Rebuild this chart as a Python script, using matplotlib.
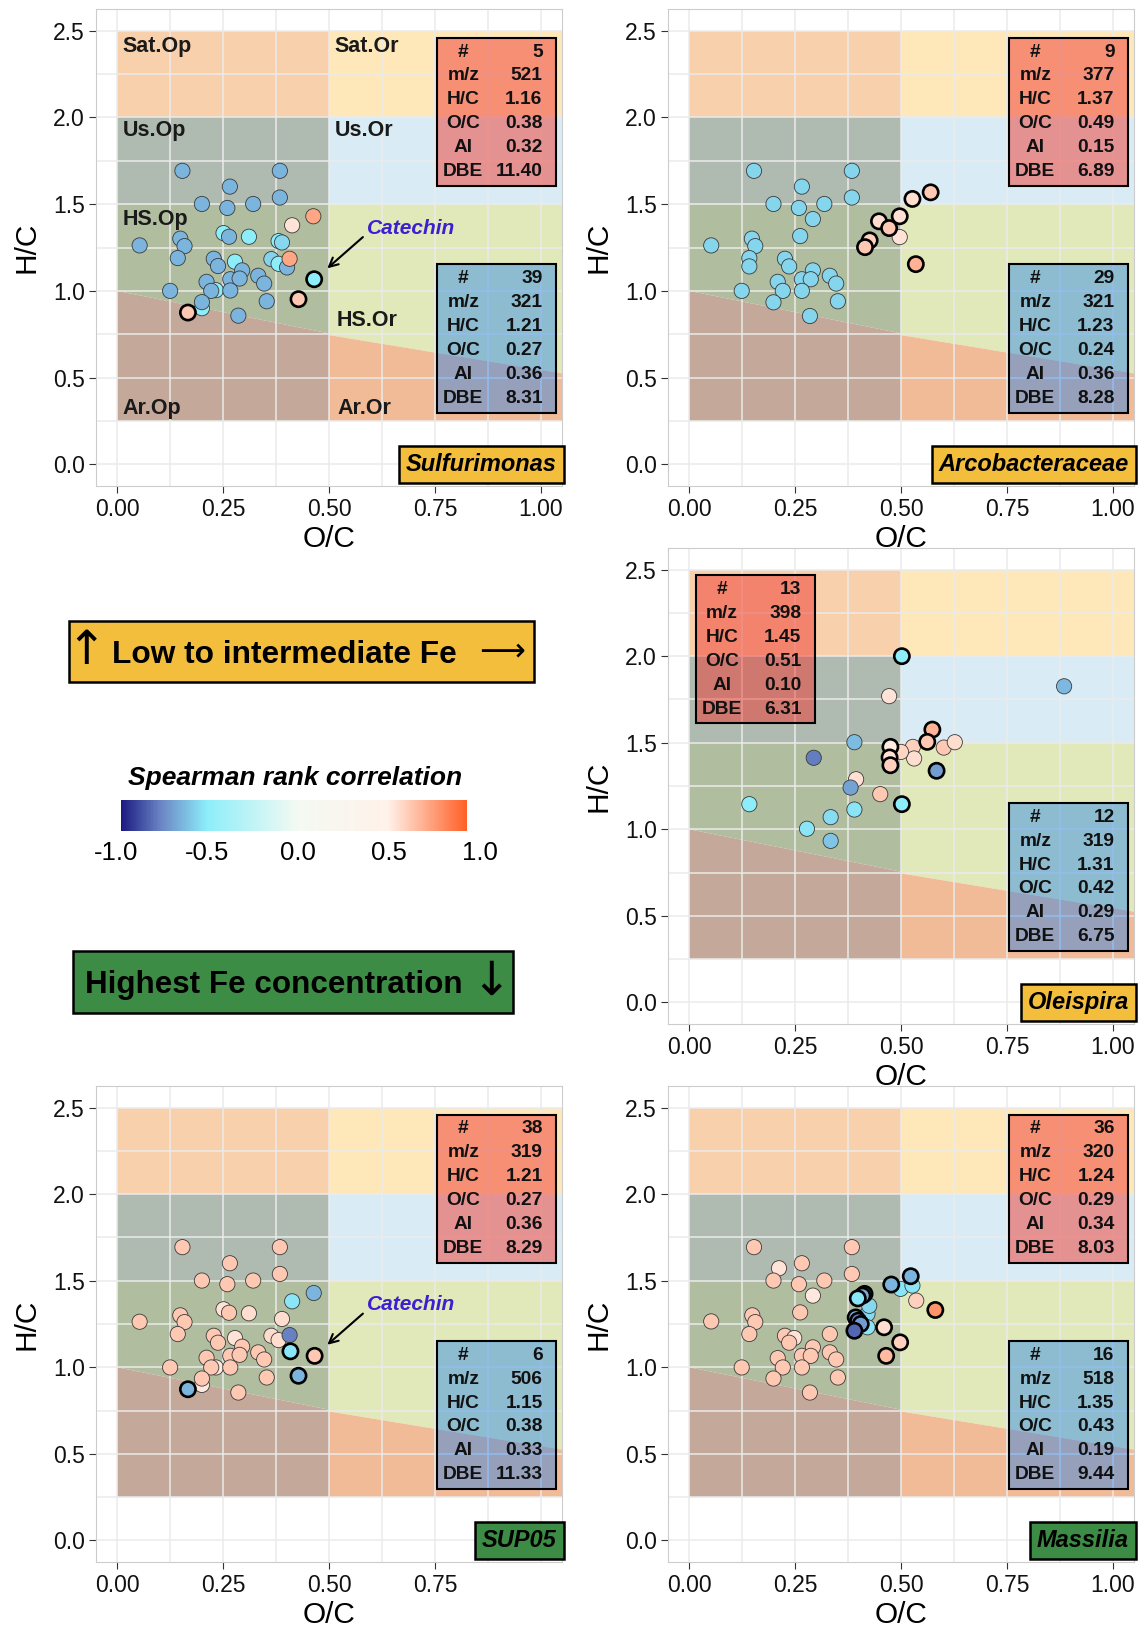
import numpy as np
import matplotlib
matplotlib.use('Agg')
import matplotlib.pyplot as plt
from matplotlib.colors import LinearSegmentedColormap, to_rgba
from matplotlib.patches import Rectangle

plt.rcParams['font.family'] = ['Liberation Sans', 'DejaVu Sans']

W, H = 1138, 1629

# ---------------- data ----------------
box_rows = ['#', 'm/z', 'H/C', 'O/C', 'AI', 'DBE']

# Sulfurimonas
sulf_oc = [0.154, 0.384, 0.266, 0.384, 0.200, 0.260, 0.321, 0.463, 0.413, 0.053,
           0.149, 0.159, 0.251, 0.264, 0.311, 0.381, 0.389, 0.143, 0.228, 0.238,
           0.278, 0.295, 0.364, 0.381, 0.401, 0.407, 0.333, 0.347, 0.267, 0.289,
           0.211, 0.233, 0.222, 0.267, 0.125, 0.200, 0.200, 0.167, 0.286, 0.353,
           0.428, 0.465]
sulf_hc = [1.692, 1.692, 1.601, 1.538, 1.501, 1.478, 1.501, 1.430, 1.378, 1.262,
           1.301, 1.258, 1.333, 1.312, 1.312, 1.287, 1.279, 1.189, 1.185, 1.143,
           1.168, 1.118, 1.183, 1.156, 1.135, 1.185, 1.087, 1.042, 1.067, 1.071,
           1.052, 1.004, 1.000, 1.002, 1.000, 0.900, 0.935, 0.875, 0.857, 0.940,
           0.952, 1.067]
sulf_rho = [-0.64, -0.64, -0.64, -0.64, -0.64, -0.64, -0.64, 0.72, 0.54, -0.64,
            -0.64, -0.64, -0.50, -0.64, -0.50, -0.50, -0.55, -0.64, -0.64, -0.64,
            -0.50, -0.64, -0.57, -0.50, -0.64, 0.72, -0.64, -0.64, -0.64, -0.64,
            -0.64, -0.50, -0.64, -0.64, -0.64, -0.50, -0.64, 0.62, -0.64, -0.64,
            0.62, -0.50]
sulf_bold = [37, 40, 41]
sulf_red = [5, 521, 1.16, 0.38, 0.32, 11.40]
sulf_blue = [39, 321, 1.21, 0.27, 0.36, 8.31]

# Arcobacteraceae
arc_oc = [0.153, 0.384, 0.266, 0.384, 0.199, 0.259, 0.319, 0.292, 0.262, 0.052,
          0.148, 0.156, 0.142, 0.142, 0.226, 0.236, 0.292, 0.266, 0.287, 0.209,
          0.221, 0.266, 0.124, 0.199, 0.285, 0.332, 0.347, 0.351, 0.497, 0.570,
          0.527, 0.497, 0.448, 0.472, 0.426, 0.415, 0.535]
arc_hc = [1.692, 1.692, 1.601, 1.538, 1.501, 1.478, 1.501, 1.414, 1.316, 1.262,
          1.301, 1.258, 1.189, 1.141, 1.185, 1.141, 1.118, 1.067, 1.067, 1.052,
          1.000, 1.000, 1.000, 0.934, 0.855, 1.087, 1.042, 0.940, 1.310, 1.568,
          1.530, 1.430, 1.401, 1.362, 1.291, 1.252, 1.154]
arc_rho = [-0.56] * 28 + [0.54, 0.62, 0.56, 0.55, 0.56, 0.62, 0.60, 0.62, 0.68]
arc_bold = [29, 30, 31, 32, 33, 34, 35, 36]
arc_red = [9, 377, 1.37, 0.49, 0.15, 6.89]
arc_blue = [29, 321, 1.23, 0.24, 0.36, 8.28]

# Oleispira
ole_oc = [0.885, 0.472, 0.390, 0.294, 0.528, 0.531, 0.500, 0.601, 0.627, 0.394,
          0.381, 0.451, 0.142, 0.390, 0.334, 0.278, 0.334, 0.502, 0.574, 0.562,
          0.475, 0.473, 0.475, 0.584, 0.502]
ole_hc = [1.826, 1.769, 1.503, 1.413, 1.476, 1.409, 1.447, 1.472, 1.503, 1.289,
          1.241, 1.203, 1.145, 1.114, 1.070, 1.003, 0.933, 2.000, 1.576, 1.505,
          1.476, 1.415, 1.370, 1.338, 1.145]
ole_rho = [-0.63, 0.54, -0.62, -0.77, 0.60, 0.56, 0.58, 0.62, 0.56, 0.55,
           -0.68, 0.62, -0.50, -0.52, -0.54, -0.52, -0.60, -0.50, 0.68, 0.62,
           0.52, 0.55, 0.60, -0.70, -0.50]
ole_bold = [17, 18, 19, 20, 21, 22, 23, 24]
ole_red = [13, 398, 1.45, 0.51, 0.10, 6.31]
ole_blue = [12, 319, 1.31, 0.42, 0.29, 6.75]

# SUP05
sup_oc = [0.154, 0.384, 0.266, 0.384, 0.200, 0.260, 0.321, 0.464, 0.413, 0.053,
          0.149, 0.159, 0.251, 0.264, 0.311, 0.389, 0.143, 0.228, 0.238, 0.278,
          0.295, 0.364, 0.381, 0.407, 0.333, 0.347, 0.267, 0.289, 0.211, 0.233,
          0.222, 0.267, 0.125, 0.200, 0.200, 0.286, 0.353, 0.409, 0.466, 0.428,
          0.167]
sup_hc = [1.694, 1.694, 1.601, 1.539, 1.501, 1.480, 1.501, 1.429, 1.381, 1.263,
          1.300, 1.261, 1.335, 1.315, 1.312, 1.279, 1.192, 1.182, 1.142, 1.169,
          1.119, 1.182, 1.157, 1.186, 1.086, 1.045, 1.066, 1.072, 1.055, 0.999,
          0.999, 0.999, 0.999, 0.898, 0.935, 0.854, 0.941, 1.092, 1.066, 0.951,
          0.873]
sup_rho = [0.62, 0.62, 0.62, 0.62, 0.62, 0.62, 0.62, -0.64, -0.52, 0.62,
           0.62, 0.62, 0.54, 0.62, 0.56, 0.56, 0.62, 0.62, 0.62, 0.54,
           0.62, 0.57, 0.56, -0.76, 0.62, 0.62, 0.62, 0.62, 0.62, 0.53,
           0.62, 0.62, 0.62, 0.53, 0.62, 0.62, 0.62, -0.52, 0.62, -0.64,
           -0.64]
sup_bold = [37, 38, 39, 40]
sup_red = [38, 319, 1.21, 0.27, 0.36, 8.29]
sup_blue = [6, 506, 1.15, 0.38, 0.33, 11.33]

# Massilia
mas_oc = [0.153, 0.384, 0.266, 0.212, 0.384, 0.199, 0.259, 0.319, 0.292, 0.262,
          0.052, 0.149, 0.156, 0.142, 0.226, 0.248, 0.236, 0.292, 0.266, 0.287,
          0.209, 0.221, 0.266, 0.124, 0.199, 0.285, 0.332, 0.332, 0.347, 0.351,
          0.499, 0.527, 0.536, 0.421, 0.421, 0.425, 0.523, 0.477, 0.581, 0.414,
          0.409, 0.398, 0.393, 0.399, 0.405, 0.390, 0.460, 0.498, 0.465]
mas_hc = [1.694, 1.694, 1.601, 1.572, 1.539, 1.501, 1.480, 1.501, 1.414, 1.317,
          1.265, 1.300, 1.261, 1.192, 1.182, 1.169, 1.142, 1.115, 1.066, 1.066,
          1.053, 0.999, 0.999, 0.999, 0.935, 0.854, 1.192, 1.086, 1.045, 0.941,
          1.453, 1.472, 1.385, 1.308, 1.231, 1.355, 1.526, 1.478, 1.331, 1.424,
          1.414, 1.398, 1.288, 1.269, 1.250, 1.211, 1.231, 1.144, 1.066]
mas_rho = [0.62, 0.62, 0.62, 0.54, 0.62, 0.62, 0.62, 0.62, 0.53, 0.62,
           0.62, 0.62, 0.62, 0.62, 0.62, 0.54, 0.62, 0.62, 0.62, 0.62,
           0.62, 0.62, 0.62, 0.62, 0.62, 0.62, 0.62, 0.62, 0.62, 0.62,
           -0.52, -0.52, 0.60, -0.55, -0.52, -0.55, -0.64, -0.64, 0.78, -0.72,
           -0.66, -0.52, -0.66, -0.75, -0.70, -0.82, 0.56, 0.60, 0.66]
mas_bold = [36, 37, 38, 39, 40, 41, 42, 43, 44, 45, 46, 47, 48]
mas_red = [36, 320, 1.24, 0.29, 0.34, 8.03]
mas_blue = [16, 518, 1.35, 0.43, 0.19, 9.44]

cbar_ticks = [-1.0, -0.5, 0.0, 0.5, 1.0]
rho_range = (-0.97, 0.93)

# ---------------- styling ----------------
cmap = LinearSegmentedColormap.from_list(
    'spearman', [(0.0, '#120E7A'), (0.125, '#6C88C6'), (0.25, '#8DEEFA'),
                 (0.5, '#F4FAF3'), (0.75, '#FFF2EA'), (1.0, '#FF4A08')])

# van Krevelen zones (x, y polygons)
zones = [
    ([0, 0.5, 0.5, 0], [2.0, 2.0, 2.5, 2.5], '#F8D0AC'),
    ([0.5, 1.06, 1.06, 0.5], [2.0, 2.0, 2.5, 2.5], '#FEE8B9'),
    ([0, 0.5, 0.5, 0], [1.5, 1.5, 2.0, 2.0], '#AFBAB0'),
    ([0.5, 1.06, 1.06, 0.5], [1.5, 1.5, 2.0, 2.0], '#D9ECF5'),
    ([0, 0.5, 0.5, 0], [1.0, 0.755, 1.5, 1.5], '#B0BD9F'),
    ([0.5, 1.06, 1.06, 0.5], [0.745, 0.52, 1.5, 1.5], '#E1E8BA'),
    ([0, 0.5, 0.5, 0], [0.25, 0.25, 0.755, 1.0], '#C4A99A'),
    ([0.5, 1.06, 1.06, 0.5], [0.25, 0.25, 0.52, 0.745], '#F1BB98'),
]
zone_names = [('Sat.Op', 0.012, 2.41), ('Sat.Or', 0.513, 2.41),
              ('Us.Op', 0.012, 1.925), ('Us.Or', 0.513, 1.925),
              ('HS.Op', 0.012, 1.41), ('HS.Or', 0.519, 0.83),
              ('Ar.Op', 0.012, 0.32), ('Ar.Or', 0.519, 0.32)]

fig = plt.figure(figsize=(W / 100, H / 100), dpi=100)


def px_rect(left, top, right, bottom):
    return [left / W, 1 - bottom / H, (right - left) / W, (bottom - top) / H]


def fmt(i, v):
    return str(int(v)) if i < 2 else f'{v:.2f}'


def info_box(ax, x0, ytop, vals, color, alpha):
    ax.add_patch(Rectangle((x0, ytop - 0.855), 0.28, 0.855, facecolor=to_rgba(color, alpha),
                           edgecolor='black', lw=1.5, zorder=5))
    for i, (lab, v) in enumerate(zip(box_rows, vals)):
        y = ytop - 0.083 - i * 0.138
        ax.text(x0 + 0.062, y, lab, ha='center', va='center', fontsize=13.8,
                weight='bold', color='#111111', zorder=6)
        ax.text(x0 + 0.249, y, fmt(i, v), ha='right', va='center', fontsize=13.8,
                weight='bold', color='#111111', zorder=6)


def panel(rect, oc, hc, rho, bold, red, blue, taxon, tcol, red_at=(0.755, 2.46),
          names=False, catechin=False, xt=(0, 0.25, 0.5, 0.75, 1.0)):
    ax = fig.add_axes(rect)
    ax.set_xlim(-0.05, 1.05)
    ax.set_ylim(-0.125, 2.625)
    for xs, ys, col in zones:
        ax.fill(xs, ys, color=col, lw=0, zorder=1)
    ax.set_axisbelow('line')
    ax.set_xticks(list(xt))
    ax.set_xticklabels([f'{v:.2f}' for v in xt])
    minor_x = [0.125, 0.375, 0.625, 0.875] + [v for v in (0, 0.25, 0.5, 0.75, 1.0) if v not in xt]
    ax.set_xticks(minor_x, minor=True)
    yt = [0, 0.5, 1.0, 1.5, 2.0, 2.5]
    ax.set_yticks(yt)
    ax.set_yticklabels([f'{v:.1f}' for v in yt])
    ax.set_yticks([0.25, 0.75, 1.25, 1.75, 2.25], minor=True)
    ax.grid(which='both', color='#EBEBEB', lw=1.1)
    ax.tick_params(which='minor', length=0)
    ax.tick_params(which='major', length=5, width=0.8, color='#333333', labelsize=16.5,
                   pad=3, labelcolor='#111111')
    ax.tick_params(axis='x', which='major', pad=4)
    for s in ax.spines.values():
        s.set_color('#CCCCCC')
        s.set_linewidth(0.8)
    ax.set_xlabel('O/C', fontsize=21.5, labelpad=2.5)
    ax.set_ylabel('H/C', fontsize=21.5, labelpad=9)

    oc = np.asarray(oc)
    hc = np.asarray(hc)
    rho = np.asarray(rho)
    isb = np.isin(np.arange(len(oc)), bold)
    ax.scatter(oc[~isb], hc[~isb], c=rho[~isb], cmap=cmap, vmin=-1, vmax=1, s=120,
               edgecolors='#3A3A3A', linewidths=0.6, zorder=3)
    ax.scatter(oc[isb], hc[isb], c=rho[isb], cmap=cmap, vmin=-1, vmax=1, s=120,
               edgecolors='black', linewidths=1.9, zorder=4)

    info_box(ax, red_at[0], red_at[1], red, '#F03830', 0.5)
    info_box(ax, 0.755, 1.152, blue, '#0F78F1', 0.4)

    if names:
        for n, x, y in zone_names:
            ax.text(x, y, n, ha='left', va='center', fontsize=15.5, weight='bold',
                    color='#1A1A1A', zorder=2)
    if catechin:
        ax.annotate('', xy=(0.496, 1.13), xytext=(0.58, 1.31),
                    arrowprops=dict(arrowstyle='->', color='black', lw=1.5,
                                    mutation_scale=16, shrinkA=0, shrinkB=0), zorder=6)
        ax.text(0.59, 1.36, 'Catechin', ha='left', va='center', fontsize=15,
                weight='bold', style='italic', color='#3B1FD1', zorder=6)
    ax.text(1.038, 0.0, taxon, ha='right', va='center', fontsize=17, weight='bold',
            style='italic', color='black', zorder=7, clip_on=False,
            bbox=dict(boxstyle='square,pad=0.3', fc=tcol, ec='black', lw=1.8))
    return ax


orange = '#F4BE3D'
green = '#3D8C45'

panel(px_rect(96, 9, 562, 486), sulf_oc, sulf_hc, sulf_rho, sulf_bold, sulf_red, sulf_blue,
      'Sulfurimonas', orange, names=True, catechin=True)
panel(px_rect(668, 9, 1134, 486), arc_oc, arc_hc, arc_rho, arc_bold, arc_red, arc_blue,
      'Arcobacteraceae', orange)
panel(px_rect(668, 548, 1134, 1024), ole_oc, ole_hc, ole_rho, ole_bold, ole_red, ole_blue,
      'Oleispira', orange, red_at=(0.016, 2.467))
panel(px_rect(96, 1086, 562, 1562), sup_oc, sup_hc, sup_rho, sup_bold, sup_red, sup_blue,
      'SUP05', green, catechin=True, xt=(0, 0.25, 0.5, 0.75))
panel(px_rect(668, 1086, 1134, 1562), mas_oc, mas_hc, mas_rho, mas_bold, mas_red, mas_blue,
      'Massilia', green)

# ---------------- middle-left legend area ----------------
fig.patches.append(Rectangle((69 / W, 1 - 682 / H), 465 / W, 61 / H, transform=fig.transFigure,
                             facecolor=orange, edgecolor='black', lw=1.8))
fig.text(86 / W, 1 - 651 / H, '\u2191', ha='center', va='center', fontsize=34,
         family=['DejaVu Sans'])
fig.text(112 / W, 1 - 663 / H, 'Low to intermediate Fe', ha='left', va='baseline',
         fontsize=22.8, weight='bold')
fig.text(502 / W, 1 - 652 / H, '\u27F6', ha='center', va='center', fontsize=23,
         family=['DejaVu Sans'])

fig.patches.append(Rectangle((73 / W, 1 - 1013 / H), 440 / W, 62 / H, transform=fig.transFigure,
                             facecolor=green, edgecolor='black', lw=1.8))
fig.text(85 / W, 1 - 993 / H, 'Highest Fe concentration', ha='left', va='baseline',
         fontsize=22.6, weight='bold')
fig.text(491 / W, 1 - 982 / H, '\u2193', ha='center', va='center', fontsize=34,
         family=['DejaVu Sans'])

fig.text(295 / W, 1 - 785 / H, 'Spearman rank correlation', ha='center', va='baseline',
         fontsize=19, weight='bold', style='italic')

cax = fig.add_axes(px_rect(116, 800, 480, 831))
grad = np.linspace(rho_range[0], rho_range[1], 400).reshape(1, -1)
cax.imshow(grad, cmap=cmap, vmin=-1, vmax=1, aspect='auto',
           extent=(rho_range[0], rho_range[1], 0, 1))
cax.set_xlim(-1, 1)
cax.set_ylim(0, 1)
cax.set_xticks(cbar_ticks)
cax.set_xticklabels([f'{v:.1f}' for v in cbar_ticks])
cax.set_yticks([])
cax.tick_params(axis='x', length=0, labelsize=18.5, pad=7)
for s in cax.spines.values():
    s.set_visible(False)

fig.savefig('out.png', dpi=100)
